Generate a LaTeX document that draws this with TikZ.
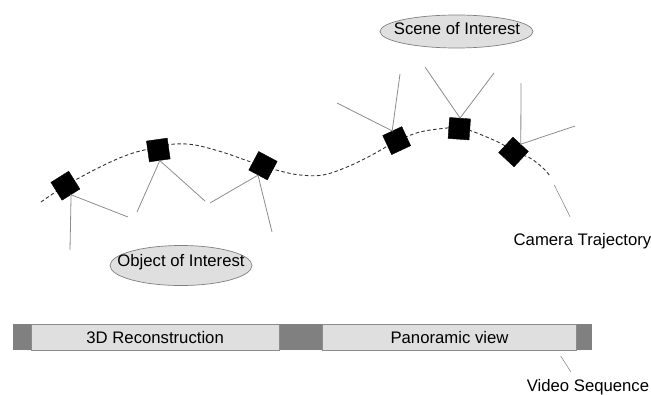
\documentclass[tikz,border=0pt]{standalone}
\usepackage{fontspec}
\setmainfont{Liberation Sans}
\usetikzlibrary{shapes.geometric}

\tikzset{
  cam/.style={fill=black, draw=black, minimum size=21pt, inner sep=0pt},
  ray/.style={draw=gray!90, line width=0.8pt},
  track/.style={draw=black!80, line width=0.9pt, dash pattern=on 3.5pt off 2.5pt},
  blob/.style={ellipse, draw=gray, fill=gray!25, line width=0.7pt, inner sep=0pt},
  lbl/.style={inner sep=0pt, font=\fontsize{16.7}{20}\selectfont},
  segbox/.style={draw=gray!90, fill=gray!25, line width=0.7pt, minimum height=26pt, inner sep=0pt,
    text height=12pt, text depth=0pt, font=\fontsize{16.7}{20}\selectfont},
}

\begin{document}
\begin{tikzpicture}[x=1pt, y=-1pt]
  \useasboundingbox (0,0) rectangle (651,394);

  \draw[track] plot[smooth, tension=0.6] coordinates {(41,202) (65,186) (100,167) (130,154) (158,147)
    (175,144) (195,145) (222,152) (248,161) (263,166) (280,171) (300,175) (323,175) (347,167)
    (370,156) (397,141) (420,132) (447,128) (459,127.5) (473,131.5) (500,143) (514,152) (530,158)
    (543,168) (550,176)};

  \node[blob, minimum width=153pt, minimum height=33pt] (scene) at (456.5,31.5) {};
  \node[lbl, anchor=base] (scenetxt) at (457,34.3) {Scene of Interest};
  \node[blob, minimum width=142pt, minimum height=40pt] (object) at (181,265.5) {};
  \node[lbl, anchor=base] (objecttxt) at (181,266.7) {Object of Interest};

  \node[cam, rotate=32]  (c1) at (65.4,185.7) {};
  \node[cam, rotate=8]   (c2) at (158.3,150) {};
  \node[cam, rotate=-28] (c3) at (263,165.7) {};
  \node[cam, rotate=25]  (c4) at (396.7,140.6) {};
  \node[cam, rotate=-4]  (c5) at (459.3,128.7) {};
  \node[cam, rotate=-43] (c6) at (513.5,152) {};

  \coordinate (r1a) at (70,250);  \coordinate (r1b) at (128,217);
  \coordinate (r2a) at (137,212); \coordinate (r2b) at (205,201);
  \coordinate (r3a) at (210,203); \coordinate (r3b) at (272,232);
  \coordinate (r4a) at (400,74);  \coordinate (r4b) at (337,103);
  \coordinate (r5a) at (425,67);  \coordinate (r5b) at (494,73);
  \coordinate (r6a) at (521,83);  \coordinate (r6b) at (575,126);

  \draw[ray] (r1a) -- (c1.south) -- (r1b);
  \draw[ray] (r2a) -- (c2.south) -- (r2b);
  \draw[ray] (r3a) -- (c3.south) -- (r3b);
  \draw[ray] (r4a) -- (c4.north) -- (r4b);
  \draw[ray] (r5a) -- (c5.north) -- (r5b);
  \draw[ray] (r6a) -- (c6.north) -- (r6b);

  \node[lbl, anchor=base] (traj) at (582.5,245) {Camera Trajectory};
  \coordinate (trajtip) at (554.3,185);
  \coordinate (trajend) at (570,216.7);
  \draw[ray, line width=0.6pt] (trajtip) -- (trajend);

  \fill[gray] (12.7,324) rectangle (592.3,350);
  \node[segbox, minimum width=248.3pt] (recon) at (155.15,337) {3D Reconstruction};
  \node[segbox, minimum width=254.4pt] (pano) at (449.5,337) {Panoramic view};

  \node[lbl, anchor=base] (video) at (588,391) {Video Sequence};
  \coordinate (videotip) at (560.7,356);
  \coordinate (videoend) at (570.7,371.7);
  \draw[ray, line width=0.6pt] (videotip) -- (videoend);
\end{tikzpicture}
\end{document}
